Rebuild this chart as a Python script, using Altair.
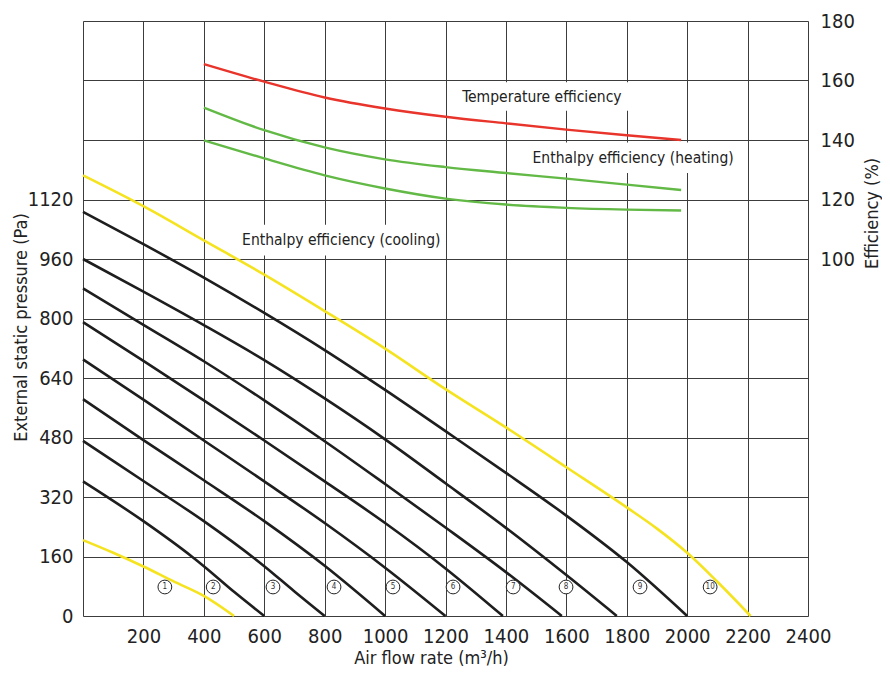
import altair as alt
import pandas as pd

FONT = "Liberation Sans Narrow, DejaVu Sans Condensed, Roboto, sans-serif"

# ---- fan curves (black): (air flow m3/h, pressure Pa)
fan_x = {
    "c2000": [0, 200, 400, 600, 800, 1000, 1200, 1400, 1600, 1800, 2000],
    "c1767": [0, 200, 400, 600, 800, 1000, 1200, 1400, 1600, 1767],
    "c1585": [0, 200, 400, 600, 800, 1000, 1200, 1400, 1585],
    "c1390": [0, 200, 400, 600, 800, 1000, 1200, 1390],
    "c1200": [0, 200, 400, 600, 800, 1000, 1200],
    "c1000": [0, 200, 400, 600, 800, 1000],
    "c800": [0, 200, 400, 600, 700, 800],
    "c600": [0, 200, 360, 400, 500, 600],
}
fan_p = {
    "c2000": [1087, 1000, 910, 815, 715, 608, 497, 385, 270, 145, 0],
    "c1767": [960, 872, 782, 688, 585, 475, 357, 237, 110, 0],
    "c1585": [881, 783, 685, 580, 470, 355, 238, 118, 0],
    "c1390": [790, 686, 580, 472, 362, 250, 128, 0],
    "c1200": [690, 582, 472, 362, 250, 130, 0],
    "c1000": [583, 473, 365, 255, 135, 0],
    "c800": [471, 363, 255, 134, 66, 0],
    "c600": [362, 255, 160, 134, 65, 0],
}
# ---- limit curves (yellow)
lim_x = {
    "upper": [0, 200, 400, 600, 800, 1000, 1200, 1400, 1600, 1800, 1900, 2000, 2100, 2210],
    "lower": [0, 100, 200, 300, 400, 500],
}
lim_p = {
    "upper": [1185, 1102, 1010, 918, 820, 719, 610, 507, 400, 292, 235, 170, 92, 0],
    "lower": [204, 170, 133, 93, 54, 0],
}
# ---- efficiency curves (%)
eff_x = [400, 600, 800, 1000, 1200, 1400, 1600, 1800, 1980]
temp_eff = [165.5, 159.6, 154.3, 150.6, 147.8, 145.6, 143.5, 141.6, 140.0]
heat_eff = [150.9, 143.3, 137.5, 133.5, 130.9, 128.9, 127.0, 125.0, 123.2]
cool_eff = [139.9, 133.8, 128.1, 123.7, 120.3, 118.3, 117.2, 116.6, 116.3]

# ---- circled curve numbers
num_labels = ["1", "2", "3", "4", "5", "6", "7", "8", "9", "10"]
num_x = [271, 431, 629, 831, 1026, 1225, 1424, 1599, 1844, 2076]
num_p = [78] * 10

# ---- efficiency annotations (text, centre x, centre eff, box x1, x2, e1, e2)
ann_text = ["Temperature efficiency", "Enthalpy efficiency (heating)", "Enthalpy efficiency (cooling)"]
ann_x = [1519, 1821, 855]
ann_e = [154.6, 133.9, 106.4]
box_x1 = [1235, 1492, 512]
box_x2 = [1808, 2158, 1190]
box_e1 = [149.8, 128.9, 101.2]
box_e2 = [159.4, 139.2, 111.5]

rows = []
for k in fan_x:
    for a, b in zip(fan_x[k], fan_p[k]):
        rows.append({"curve": k, "kind": "fan", "x": a, "p": b})
for k in lim_x:
    for a, b in zip(lim_x[k], lim_p[k]):
        rows.append({"curve": k, "kind": "limit", "x": a, "p": b})
press_df = pd.DataFrame(rows)

erows = []
for name, vals in [("temp", temp_eff), ("heat", heat_eff), ("cool", cool_eff)]:
    for a, b in zip(eff_x, vals):
        erows.append({"curve": name, "x": a, "e": b})
eff_df = pd.DataFrame(erows)

num_df = pd.DataFrame({"n": num_labels, "x": num_x, "p": num_p})
ann_df = pd.DataFrame({"t": ann_text, "x": ann_x, "e": ann_e,
                       "x1": box_x1, "x2": box_x2, "e1": box_e1, "e2": box_e2})

GRID = "#3c3c3c"
TXT = "#222222"

x_axis = alt.Axis(
    values=list(range(0, 2401, 200)), format="d",
    labelExpr="datum.value == 0 ? '' : datum.label",
    grid=True, gridColor=GRID, gridWidth=1, ticks=False, domain=False,
    labelFont=FONT, labelFontSize=20, labelColor=TXT, labelPadding=10,
    labelFlush=False, labelOverlap=False,
    title="Air flow rate (m³/h)", titleFont=FONT, titleFontSize=18,
    titleFontWeight="normal", titleColor=TXT, titleBaseline="middle",
    titleX=348, titleY=42,
)
x_scale = alt.Scale(domain=[0, 2400], nice=False, zero=False)
X = alt.X("x:Q", scale=x_scale, axis=x_axis)
X_box = alt.X("x1:Q", scale=x_scale, axis=x_axis)

p_scale = alt.Scale(domain=[0, 1600], nice=False)
p_axis = alt.Axis(
    values=list(range(0, 1601, 160)), format="d",
    labelExpr="datum.value <= 1120 ? datum.label : ''",
    grid=True, gridColor=GRID, gridWidth=1, ticks=False, domain=False,
    labelFont=FONT, labelFontSize=20, labelColor=TXT, labelPadding=10,
    labelOverlap=False,
    title="External static pressure (Pa)", titleFont=FONT, titleFontSize=18,
    titleFontWeight="normal", titleColor=TXT, titleBaseline="middle",
    titleX=-62, titleY=306,
)
Yp = alt.Y("p:Q", scale=p_scale, axis=p_axis)

e_scale = alt.Scale(domain=[-20, 180], nice=False, zero=False)
e_axis = alt.Axis(
    orient="right", values=[100, 120, 140, 160, 180], format="d",
    grid=False, ticks=False, domain=False,
    labelFont=FONT, labelFontSize=20, labelColor=TXT, labelPadding=12,
    labelOverlap=False,
    title="Efficiency (%)", titleFont=FONT, titleFontSize=18,
    titleFontWeight="normal", titleColor=TXT, titleBaseline="middle",
    titleAngle=270, titleX=64, titleY=192,
)
Ye = alt.Y("e:Q", scale=e_scale, axis=e_axis)

curves = alt.Chart(press_df).mark_line(strokeWidth=2.6, interpolate="monotone").encode(
    x=X, y=Yp, detail="curve:N",
    color=alt.Color("kind:N", scale=alt.Scale(domain=["fan", "limit"],
                                              range=["#1e1e1e", "#f5e320"]), legend=None),
)
circles = alt.Chart(num_df).mark_point(shape="circle", size=190, filled=True,
                                       color="white", fill="white", opacity=1,
                                       stroke="#222", strokeWidth=1).encode(x=X, y=Yp)
nums = alt.Chart(num_df).mark_text(fontSize=8, font=FONT, color="#333").encode(
    x=X, y=Yp, text="n:N")
left = alt.layer(curves, circles, nums)

boxes = alt.Chart(ann_df).mark_rect(fill="white", color="white").encode(
    x=X_box, x2="x2:Q",
    y=alt.Y("e1:Q", scale=e_scale, axis=e_axis), y2="e2:Q")
eff_lines = alt.Chart(eff_df).mark_line(strokeWidth=2.4, interpolate="monotone").encode(
    x=X, y=Ye, detail="curve:N",
    color=alt.Color("curve:N", scale=alt.Scale(domain=["temp", "heat", "cool"],
                                               range=["#e8342b", "#63b946", "#63b946"]), legend=None),
)
texts = alt.Chart(ann_df).mark_text(fontSize=15.5, font=FONT, color=TXT).encode(
    x=X, y=Ye, text="t:N")
right = alt.layer(boxes, eff_lines, texts)

chart = alt.layer(left, right).resolve_scale(y="independent", color="independent").properties(
    width=725, height=595,
    autosize=alt.AutoSizeParams(type="none"),
    padding={"left": 75, "top": 13, "right": 74, "bottom": 51},
).configure_view(stroke="#222", strokeWidth=1.5).configure(background="white")

chart.save("out.html", embed_options={"renderer": "svg", "actions": False})
